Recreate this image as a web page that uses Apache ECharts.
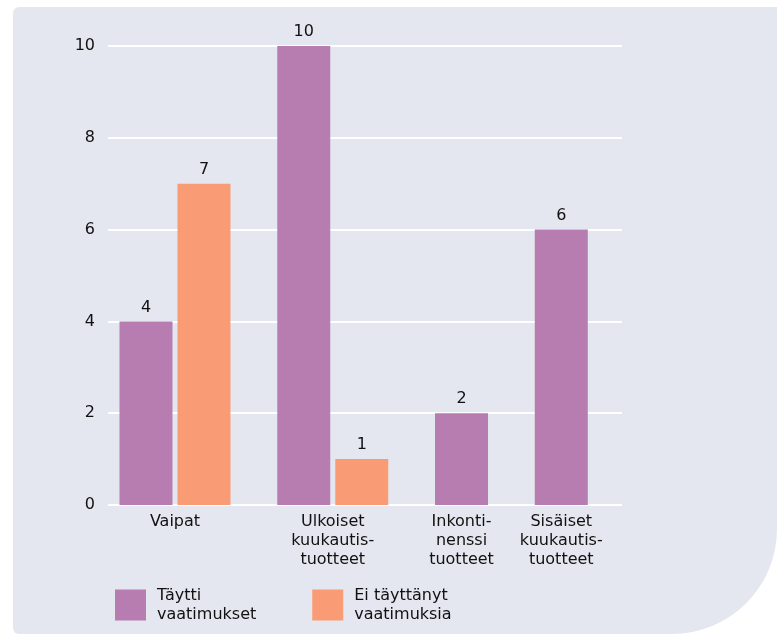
<!DOCTYPE html>
<html>
<head>
<meta charset="utf-8">
<script src="https://cdn.jsdelivr.net/npm/echarts@6/dist/echarts.min.js"></script>
<style>
	html, body { margin: 0; padding: 0; background: #fff; }
	#chart { width: 777px; height: 635px; }
</style>
</head>
<body>
<div id="chart"></div>
<script>
// data
var categories = ['Vaipat', 'Ulkoiset\nkuukautis-\ntuotteet', 'Inkonti-\nnenssi\ntuotteet', 'Sisäiset\nkuukautis-\ntuotteet'];
var seriesNames = ['Täytti\nvaatimukset', 'Ei täyttänyt\nvaatimuksia'];
var tayttiValues = [4, 10, 2, 6];
var eiValues = [7, 1, null, null];
var yTicks = [0, 2, 4, 6, 8, 10];

var colors = ['#b77cb0', '#f99c76'];
var textColor = '#111';
var fontName = 'DejaVu Sans';

// each group is as wide as the bars it has (like free-width facets)
var GROUP_GAP = 0.72;
var cursor = 0;
var groupCenters = [];
var tayttiData = [];
var eiData = [];
for (var i = 0; i < categories.length; i++) {
	var start = cursor;
	if (tayttiValues[i] != null) {
		tayttiData.push([cursor + 0.5, tayttiValues[i]]);
		cursor += 1;
	}
	if (eiValues[i] != null) {
		eiData.push([cursor + 0.5, eiValues[i]]);
		cursor += 1;
	}
	groupCenters.push((start + cursor) / 2);
	cursor += GROUP_GAP;
}

function categoryName(v) {
	for (var k = 0; k < groupCenters.length; k++) {
		if (Math.abs(groupCenters[k] - v) < 1e-6) return categories[k];
	}
	return '';
}

var barLabel = {
	show: true,
	position: 'top',
	distance: 6,
	fontFamily: fontName,
	fontSize: 16,
	color: textColor
};

var chart = echarts.init(document.getElementById('chart'));
chart.setOption({
	backgroundColor: '#fff',
	animation: false,
	graphic: [{
		type: 'rect',
		z: -10,
		silent: true,
		shape: { x: 13, y: 7, width: 764, height: 627, r: [6, 0, 105, 6] },
		style: { fill: '#e4e7ef' }
	}],
	grid: { left: 108, right: 155, top: 46, bottom: 130 },
	legend: {
		left: 115,
		top: 586,
		padding: 0,
		itemWidth: 31,
		itemHeight: 31,
		itemGap: 56,
		icon: 'rect',
		data: seriesNames,
		textStyle: {
			fontFamily: fontName,
			fontSize: 16,
			lineHeight: 19,
			color: textColor,
			padding: [0, 0, 0, 6]
		}
	},
	xAxis: {
		type: 'value',
		min: -0.155,
		max: 8.707,
		axisLine: { show: false },
		axisTick: { show: false },
		splitLine: { show: false },
		axisLabel: {
			customValues: groupCenters,
			formatter: categoryName,
			margin: 7,
			fontFamily: fontName,
			fontSize: 16,
			lineHeight: 19,
			color: textColor,
			align: 'center'
		}
	},
	yAxis: {
		type: 'value',
		min: yTicks[0],
		max: yTicks[yTicks.length - 1],
		interval: 2,
		axisLine: { show: false },
		axisTick: { show: false },
		splitLine: { lineStyle: { color: '#fff', width: 2 } },
		axisLabel: {
			margin: 13,
			fontFamily: fontName,
			fontSize: 16,
			color: textColor
		}
	},
	series: [{
		name: seriesNames[0],
		type: 'bar',
		barWidth: 53,
		barGap: '-100%',
		itemStyle: { color: colors[0] },
		label: barLabel,
		data: tayttiData
	}, {
		name: seriesNames[1],
		type: 'bar',
		barWidth: 53,
		barGap: '-100%',
		itemStyle: { color: colors[1] },
		label: barLabel,
		data: eiData
	}]
});
</script>
</body>
</html>
